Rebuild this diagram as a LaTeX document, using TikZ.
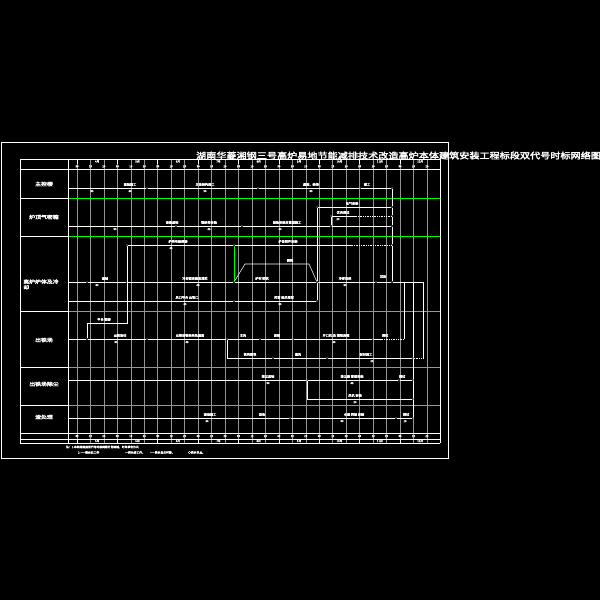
\documentclass[tikz,border=0pt]{standalone}
\usepackage{fontspec}
\usetikzlibrary{calc}
\newfontfamily\cjk[FakeBold=1.6]{Noto Sans CJK SC}
\newfontfamily\cjkb[FakeBold=2.5]{Noto Sans CJK SC}
\begin{document}
\begin{tikzpicture}[x=0.1cm,y=-0.1cm,
  ev/.style={circle,fill=white,draw=none,inner sep=0pt,minimum size=4pt},
  act/.style={draw=white,line width=1.5pt},
  vir/.style={draw=white,line width=1.5pt,dash pattern=on 3pt off 2pt},
  grn/.style={draw=green,line width=1.5pt},
  gridln/.style={draw=gray!85,line width=1.5pt},
  frm/.style={draw=white,line width=1.5pt},
  lab/.style={text=white,font=\cjk\fontsize{9}{9}\selectfont,inner sep=0pt,anchor=south},
  dur/.style={text=white,font=\cjk\fontsize{8}{8}\selectfont,inner sep=0pt,anchor=north},
  rowlab/.style={text=white,font=\cjkb\fontsize{14}{16}\selectfont,inner sep=0pt,align=left,xscale=1.2},
  hdr/.style={text=white,font=\cjk\fontsize{8}{8}\selectfont,inner sep=0pt},
  ttl/.style={text=white,font=\cjkb\fontsize{24}{24}\selectfont,inner sep=0pt,xscale=1.2,anchor=west},
  note/.style={text=white,font=\cjk\fontsize{8}{8}\selectfont,inner sep=0pt,anchor=west}
]
\fill[black] (0,0) rectangle (600,600);
\useasboundingbox (0,0) rectangle (600,600);

% grid
\foreach \k in {0,...,26} \draw[gridln] ({77+13.46*\k},159) -- ({77+13.46*\k},443);

% green row separators
\foreach \yy in {198,236,311,367,405} {
  \draw[grn] (68,\yy) -- (440,\yy);
  \draw[frm] (20,\yy) -- (68,\yy);
}

% frames
\draw[frm] (1.5,142) rectangle (448,458);
\draw[frm] (20,159) -- (440,159);
\draw[frm] (20,169) -- (440,169);
\draw[frm] (20,433) -- (440,433);
\draw[frm] (20,439) -- (440,439);
\draw[frm] (20,443) -- (440,443);
\draw[frm] (20,159) -- (20,443);
\draw[frm] (68,159) -- (68,443);
\draw[frm] (440,159) -- (440,443);
\foreach \m in {0,...,9} {
  \draw[frm] ({77+40.38*\m},159) -- ({77+40.38*\m},163.5);
  \draw[frm] ({77+40.38*\m},439) -- ({77+40.38*\m},443);
}

% header labels
\foreach \k in {0,...,26} {
  \pgfmathtruncatemacro\dd{mod(\k,3)}
  \node[hdr] (ht\k) at ({77+13.46*\k},166.3) {\ifnum\dd=0 30\else\dd0\fi};
  \node[hdr] (hb\k) at ({77+13.46*\k},436) {\ifnum\dd=0 30\else\dd0\fi};
}
\foreach \m [evaluate=\m as \mm using int(\m+4)] in {0,...,8} {
  \node[hdr] (mt\m) at ({97.19+40.38*\m},161.5) {\mm 月};
  \node[hdr] (mb\m) at ({97.19+40.38*\m},441) {\mm 月};
}

% title
\node[ttl] (title) at (196,155.5) {湖南华菱湘钢三号高炉易地节能减排技术改造高炉本体建筑安装工程标段双代号时标网络图};

% row labels
\node[rowlab] (r1) at (44,184) {主控楼};
\node[rowlab] (r2) at (44,217) {炉顶气密箱};
\node[rowlab] (r3) at (41,284.5) {高炉炉体及冷\\却};
\node[rowlab] (r4) at (44,340) {出铁场};
\node[rowlab] (r5) at (44,384) {出铁场除尘};
\node[rowlab] (r6) at (44,417) {渣处理};

% ---------- events ----------
% row 1
\coordinate (s1) at (68,188);
\node[ev] (e1a) at (147,188) {};
\node[ev] (e1b) at (258,188) {};
\node[ev] (e1c) at (360,188) {};
\node[ev] (e1d) at (392,188) {};
% row 2
\coordinate (s2) at (68,226);
\node[ev] (e2a) at (176,226) {};
\node[ev] (e2b) at (242,226) {};
\node[ev] (e2c) at (331,226) {};
\node[ev] (e2d) at (392,226) {};
\node[ev] (e2e) at (317,207) {};
\node[ev] (e2f) at (392,207) {};
\node[ev] (e2g) at (331,216) {};
\node[ev] (e2h) at (392,216) {};
\coordinate (c2g) at (356,216);
% row 3
\node[ev] (e3a) at (127,245) {};
\node[ev] (e3b) at (234,245) {};
\coordinate (c3d) at (352,245);
\node[ev] (e3c) at (392,245) {};
\coordinate (s3) at (68,282);
\node[ev] (e3d) at (87,282) {};
\node[ev] (e3e) at (127,282) {};
\node[ev] (e3f) at (234,282) {};
\node[ev] (e3g) at (317,282) {};
\node[ev] (e3h) at (376,282) {};
\node[ev] (e3i) at (392,282) {};
\coordinate (c3a) at (404,282);
\coordinate (c3b) at (413,282);
\coordinate (c3c) at (423,282);
\coordinate (c3t1) at (245,264);
\coordinate (c3t2) at (309,264);
\coordinate (s3b) at (68,301);
\node[ev] (e3k) at (234,301) {};
\node[ev] (e3l) at (317,301) {};
\coordinate (c3m) at (127,323);
\coordinate (c3n) at (87,323);
% row 4
\coordinate (s4) at (68,339);
\node[ev] (e4a) at (87,339) {};
\node[ev] (e4b) at (147,339) {};
\node[ev] (e4c) at (227,339) {};
\node[ev] (e4d) at (260,339) {};
\node[ev] (e4e) at (293,339) {};
\node[ev] (e4f) at (373,339) {};
\coordinate (c4d) at (382,339);
\coordinate (e4g) at (404,339);
\coordinate (c4a) at (227,358);
\node[ev] (e4h) at (273,358) {};
\node[ev] (e4i) at (327,358) {};
\node[ev] (e4j) at (413,358) {};
\coordinate (c4b) at (423,358);
% row 5
\coordinate (s5) at (68,380);
\node[ev] (e5a) at (307,380) {};
\node[ev] (e5b) at (399,380) {};
\node[ev] (e5c) at (413,380) {};
\coordinate (c5a) at (307,399);
\node[ev] (e5d) at (413,399) {};
% row 6
\coordinate (s6) at (68,418);
\node[ev] (e6a) at (290,418) {};
\node[ev] (e6b) at (396,418) {};
\node[ev] (e6c) at (413,418) {};

% ---------- connectors ----------
\draw[act] (s1) -- (e1a) -- (e1b) -- (e1c) -- (e1d);
\draw[act] (e1d) -- (e2f) -- (e2h) -- (e2d) -- (e3c) -- (e3i);
\draw[act] (s2) -- (e2a) -- (e2b) -- (e2c) -- (e2d);
\draw[act] (e2e) -- (e2f);
\draw[act] (e2g) -- (c2g);
\draw[vir] (c2g) -- (e2h);
\draw[act] (e2g) -- (e2c);
\draw[act] (e2e) -- (e3g) -- (e3l);
\draw[act] (e3a) -- (e3b) -- (c3d);
\draw[vir] (c3d) -- (e3c);
\draw[act] (s3) -- (e3d) -- (e3e) -- (e3f) -- (e3g) -- (e3h) -- (e3i) -- (c3c);
\draw[grn] (e3b) -- (e3f);
\draw[act] (e3f) -- (c3t1) -- (c3t2) -- (e3g);
\draw[act] (s3b) -- (e3k) -- (e3l);
\draw[act] (e3a) -- (c3m) -- (c3n) -- (e4a);
\draw[act] (c3a) -- (e4g);
\draw[act] (c3b) -- (e4j);
\draw[act] (c3c) -- (c4b);
\draw[act] (s4) -- (e4a) -- (e4b) -- (e4c) -- (e4d) -- (e4e) -- (e4f) -- (c4d);
\draw[vir] (c4d) -- (e4g);
\draw[act] (e4c) -- (c4a) -- (e4h) -- (e4i) -- (e4j);
\draw[vir] (e4j) -- (c4b);
\draw[act] (e4j) -- (e5c) -- (e5d) -- (e6c);
\draw[act] (s5) -- (e5a) -- (e5b) -- (e5c);
\draw[act] (e5a) -- (c5a) -- (e5d);
\draw[act] (s6) -- (e6a) -- (e6b) -- (e6c);

% ---------- activity labels ----------
\node[lab] (l1a) at (130,186) {基础施工};
\node[dur] (d1a) at (130,190) {60};
\node[dur] (d1z) at (92,190) {30};
\node[lab] (l1b) at (205,186) {主体结构施工};
\node[dur] (d1b) at (205,190) {90};
\node[lab] (l1c) at (311,186) {屋面、装饰};
\node[dur] (d1c) at (311,190) {30};
\node[lab] (l1d) at (367,186) {竣工};

\node[lab] (l2a) at (172,224) {设备基础};
\node[dur] (d2a) at (115,228) {30};
\node[lab] (l2b) at (209,224) {钢结构安装};
\node[dur] (d2b) at (209,228) {45};
\node[lab] (l2c) at (287,224) {设备安装及管道施工};
\node[dur] (d2c) at (280,228) {60};
\node[lab] (l2d) at (352,205) {电气安装};
\node[lab] (l2e) at (343,214) {仪表调试};
\node[dur] (d2e) at (338,218) {20};

\node[lab] (l3a) at (178,243) {炉壳吊装焊接};
\node[dur] (d3a) at (171,247) {60};
\node[lab] (l3b) at (288,243) {炉体附件安装};
\node[lab] (l3t) at (290,262) {砌筑};
\node[lab] (l3c) at (105,280) {基础};
\node[dur] (d3c) at (97,284) {30};
\node[lab] (l3d) at (195,280) {冷却壁安装及灌浆};
\node[dur] (d3d) at (198,284) {45};
\node[lab] (l3e) at (262,280) {炉衬 砌筑};
\node[lab] (l3f) at (345,280) {冷却系统};
\node[dur] (d3f) at (345,284) {30};
\node[lab] (l3g) at (383,278) {试压};
\node[lab] (l3h) at (187,299) {风口平台 出铁口};
\node[dur] (d3h) at (185,303) {60};
\node[lab] (l3i) at (284,299) {风管 热风围管};
\node[dur] (d3i) at (280,303) {30};
\node[lab] (l3j) at (104,321) {平台 钢梯};

\node[lab] (l4a) at (120,337) {出铁场柱};
\node[dur] (d4a) at (116,341) {30};
\node[lab] (l4b) at (190,337) {出铁场钢结构及屋面};
\node[dur] (d4b) at (187,341) {45};
\node[lab] (l4c) at (243,337) {主沟};
\node[lab] (l4d) at (277,337) {泥炮};
\node[lab] (l4e) at (336,337) {开口机 及 摆动流嘴};
\node[dur] (d4e) at (334,341) {40};
\node[lab] (l4f) at (385,337) {调试};
\node[lab] (l4g) at (250,356) {铁沟砌筑};
\node[lab] (l4h) at (298,356) {渣沟};
\node[lab] (l4i) at (366,356) {耐材施工};
\node[dur] (d4i) at (372,360) {20};

\node[lab] (l5a) at (268,378) {除尘基础};
\node[dur] (d5a) at (268,382) {30};
\node[lab] (l5b) at (352,378) {除尘器 管道安装};
\node[dur] (d5b) at (352,382) {45};
\node[lab] (l5c) at (402,378) {调试};
\node[lab] (l5d) at (355,397) {风机 安装};
\node[dur] (d5d) at (355,401) {20};

\node[lab] (l6a) at (210,416) {渣池施工};
\node[dur] (d6a) at (207,420) {60};
\node[lab] (l6b) at (262,416) {设备};
\node[lab] (l6c) at (354,416) {水渣 转鼓 安装};
\node[dur] (d6c) at (342,420) {30};
\node[lab] (l6d) at (406,416) {调试};
\node[dur] (d6d) at (405,420) {15};

% notes
\node[note] (n1) at (66,447) {注：1.本网络图按双代号时标网络计划绘制，时间单位为天};
\node[note] (n2) at (78,452.5) {2.——表示实工作};
\node[note] (n3) at (125,452.5) {---表示虚工作，};
\node[note] (n4) at (150,452.5) {——表示自由时差，};
\node[note] (n5) at (188,452.5) {○表示节点。};
\end{tikzpicture}
\end{document}
